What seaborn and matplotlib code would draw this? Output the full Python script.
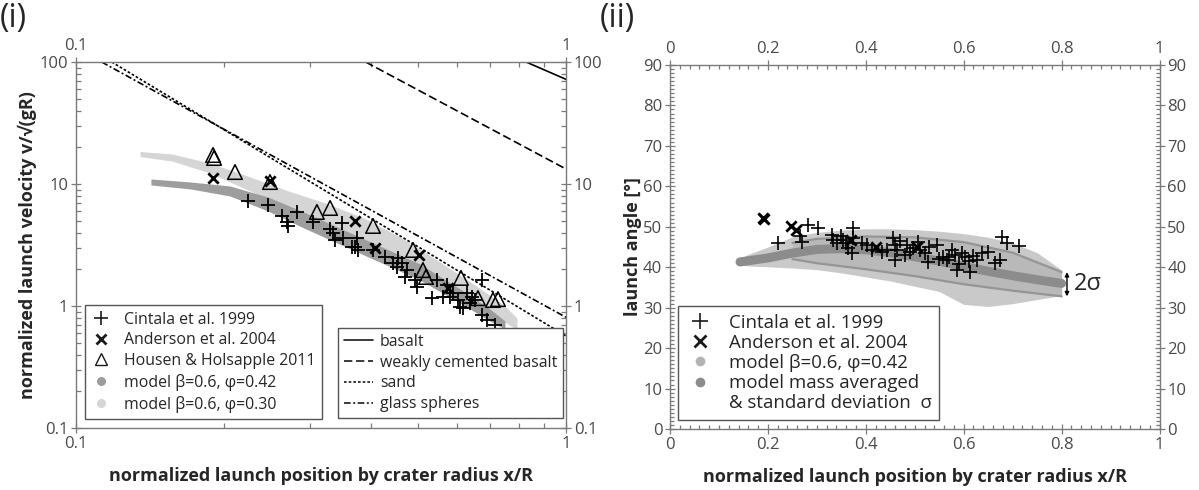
import matplotlib
matplotlib.use("Agg")
import numpy as np
import pandas as pd
import matplotlib.pyplot as plt
import seaborn as sns
from matplotlib.lines import Line2D
from matplotlib.ticker import (FuncFormatter, MultipleLocator, LogLocator,
                               NullFormatter, FixedLocator)

# ---------------- data: (i) launch velocity ----------------
cintala_left_x = [0.2247, 0.2468, 0.2630, 0.2692, 0.2713, 0.2821, 0.3050, 0.3300, 0.3351, 0.3378,
                  0.3512, 0.3711, 0.3769, 0.3740, 0.4044, 0.4272, 0.4443, 0.4548, 0.3485, 0.3653,
                  0.4513, 0.4622, 0.4731, 0.4693, 0.4918, 0.4958, 0.5320, 0.5446, 0.5709, 0.5618,
                  0.5798, 0.5888, 0.6028, 0.6077, 0.6271, 0.6422, 0.6522, 0.6730, 0.6730, 0.6891,
                  0.7163, 0.6173, 0.6366]
cintala_left_v = [7.26, 6.73, 5.47, 4.91, 4.53, 5.93, 4.91, 4.25, 3.94, 3.48,
                  3.59, 3.06, 2.88, 3.59, 2.88, 2.54, 2.24, 2.46, 4.76, 3.06,
                  2.10, 2.24, 1.97, 1.74, 1.63, 1.44, 1.16, 1.63, 1.49, 1.19,
                  1.19, 1.27, 1.12, 0.987, 1.27, 1.19, 1.12, 1.63, 0.844, 0.768,
                  0.699, 0.957, 1.05]

anderson_left_x = [0.1904, 0.2488, 0.3711, 0.4076, 0.5012, 0.5743]
anderson_left_v = [11.2, 10.58, 4.97, 2.99, 2.62, 1.40]

housen_x = [0.1904, 0.1913, 0.2111, 0.2488, 0.3102, 0.3300, 0.4038, 0.4873, 0.5106, 0.5179,
            0.6105, 0.6612, 0.7096, 0.7265]
housen_v = [17.29, 16.34, 12.54, 10.38, 5.90, 6.36, 4.53, 2.88, 1.97, 1.73,
            1.70, 1.16, 1.12, 1.14]

# model point clouds, outlined by lower / upper envelope
model42_x = [0.1422, 0.1716, 0.2062, 0.2465, 0.2947, 0.3523, 0.4211, 0.5035, 0.6077, 0.6996, 0.7507]
model42_hi = [10.99, 10.38, 9.63, 7.82, 5.78, 4.20, 3.05, 2.21, 1.38, 0.945, 0.753]
model42_lo = [9.82, 9.10, 7.97, 6.01, 4.28, 3.10, 2.25, 1.63, 1.06, 0.753, 0.648]

model30_x = [0.1351, 0.1570, 0.1877, 0.2254, 0.2695, 0.3224, 0.3871, 0.4627, 0.5533, 0.6612, 0.7507, 0.7943]
model30_hi = [18.46, 17.62, 14.86, 11.52, 8.85, 6.99, 5.26, 3.61, 2.29, 1.43, 1.00, 0.797]
model30_lo = [16.8, 15.43, 12.31, 8.85, 6.54, 4.79, 3.48, 2.38, 1.57, 1.02, 0.739, 0.636]

# scaling-law lines (straight in log-log, given by two points each)
basalt_x, basalt_v = [0.829, 1.0], [100.0, 72.1]
weak_x, weak_v = [0.390, 1.0], [100.0, 13.27]
sand_x, sand_v = [0.1183, 1.0], [100.0, 0.568]
glass_x, glass_v = [0.1128, 1.0], [100.0, 0.808]

# ---------------- data: (ii) launch angle ----------------
cintala_right_x = [0.2213, 0.2656, 0.269, 0.2826, 0.303, 0.330, 0.3337, 0.3405, 0.354, 0.364,
                   0.371, 0.3745, 0.3745, 0.3916, 0.402, 0.412, 0.4325, 0.4427, 0.456, 0.4597,
                   0.463, 0.4597, 0.4835, 0.490, 0.497, 0.507, 0.511, 0.5277, 0.545, 0.558,
                   0.565, 0.5755, 0.582, 0.5857, 0.596, 0.6027, 0.613, 0.6266, 0.637, 0.650,
                   0.664, 0.674, 0.6776, 0.6878, 0.7136, 0.35, 0.36, 0.47, 0.48, 0.52,
                   0.53, 0.57, 0.59, 0.61, 0.62, 0.55]
cintala_right_a = [46.1, 47.6, 46.3, 50.4, 49.6, 48.0, 46.7, 45.9, 46.7, 44.7,
                   43.4, 49.6, 47.2, 45.9, 45.5, 44.3, 43.8, 44.3, 47.2, 45.5,
                   44.3, 41.8, 45.5, 43.8, 44.7, 46.3, 44.3, 41.4, 45.5, 42.6,
                   41.8, 44.3, 43.0, 39.3, 43.4, 42.6, 38.9, 41.8, 43.4, 43.8,
                   41.0, 41.8, 47.5, 45.9, 45.2, 47.8, 46.0, 46.5, 43.0, 43.5,
                   45.0, 42.5, 40.8, 41.5, 42.8, 42.0]

anderson_right_x = [0.190, 0.192, 0.248, 0.258, 0.370, 0.420, 0.505]
anderson_right_a = [52.2, 51.8, 50.2, 49.2, 46.8, 45.0, 45.0]

cloud_x = [0.14, 0.16, 0.20, 0.25, 0.30, 0.35, 0.40, 0.45, 0.50, 0.55, 0.60, 0.65, 0.70, 0.75, 0.80]
cloud_hi = [42.0, 43.2, 45.0, 47.5, 48.6, 49.2, 49.5, 49.5, 49.3, 48.9, 48.3, 47.4, 46.0, 43.6, 39.3]
cloud_lo = [40.6, 40.3, 40.1, 39.8, 39.4, 38.6, 37.6, 36.6, 35.3, 34.0, 30.8, 30.3, 31.0, 32.0, 33.0]

mean_x = [0.143, 0.20, 0.25, 0.30, 0.35, 0.40, 0.45, 0.50, 0.55, 0.60, 0.65, 0.70, 0.75, 0.80]
mean_a = [41.3, 42.3, 43.5, 44.4, 44.6, 44.3, 43.6, 42.6, 41.5, 40.2, 39.0, 37.9, 36.9, 36.0]

sig_x = [0.25, 0.30, 0.40, 0.50, 0.60, 0.70, 0.80]
sig_hi = [46.0, 47.0, 47.6, 47.4, 46.2, 43.6, 38.8]
sig_lo = [42.0, 41.0, 39.5, 37.8, 35.8, 34.2, 32.8]

# ---------------- style ----------------
sns.set_theme(style="white")
plt.rcParams['font.family'] = ['Open Sans', 'DejaVu Sans']
SPINE = '#7a7a7a'
TICKLAB = '#4a4a4a'
C42 = '#9d9d9d'
C30 = '#d5d5d5'
TITLE_KW = dict(fontsize=13, fontweight='bold')

fig = plt.figure(figsize=(11.99, 4.90), dpi=100)
ax1 = fig.add_axes([76 / 1199, 62 / 490, 490 / 1199, 366 / 490])
ax2 = fig.add_axes([670 / 1199, 61 / 490, 489.5 / 1199, 364 / 490])


def style_axes(ax):
    for s in ax.spines.values():
        s.set_color(SPINE)
        s.set_linewidth(1.0)
    ax.tick_params(which='both', top=True, right=True, bottom=True, left=True,
                   labeltop=True, labelright=True, color=SPINE, labelcolor=TICKLAB,
                   labelsize=12, width=0.9)
    ax.tick_params(which='major', direction='inout', length=7, pad=2)
    ax.tick_params(which='minor', direction='in', length=3.5)


fmt = FuncFormatter(lambda v, _: f"{v:g}")

# ---------------- panel (i) ----------------
ax1.set_xscale('log')
ax1.set_yscale('log')

ax1.fill_between(model30_x, model30_lo, model30_hi, color=C30, lw=0, zorder=1)
ax1.fill_between(model42_x, model42_lo, model42_hi, color=C42, lw=0, zorder=1.1)

line_df = pd.DataFrame({
    'x': basalt_x + weak_x + sand_x + glass_x,
    'v': basalt_v + weak_v + sand_v + glass_v,
    'mat': ['basalt'] * 2 + ['weak'] * 2 + ['sand'] * 2 + ['glass'] * 2,
})
line_styles = {'basalt': '-', 'weak': (0, (5, 2.2)), 'sand': (0, (1.6, 1.2)),
               'glass': (0, (4, 1.5, 1.2, 1.5))}
for mat, ls in line_styles.items():
    sub = line_df[line_df['mat'] == mat]
    sns.lineplot(data=sub, x='x', y='v', ax=ax1, color='black', lw=1.2,
                 linestyle=ls, estimator=None, sort=False, zorder=2)

sns.scatterplot(x=cintala_left_x, y=cintala_left_v, ax=ax1, marker='+', s=95,
                color='black', linewidth=1.3, zorder=4)
sns.scatterplot(x=anderson_left_x, y=anderson_left_v, ax=ax1, marker='x', s=55,
                color='black', linewidth=2.0, zorder=4)
sns.scatterplot(x=housen_x, y=housen_v, ax=ax1, marker='^', s=110,
                facecolor='none', edgecolor='black', linewidth=1.1, zorder=3)

ax1.set_xlim(0.1, 1)
ax1.set_ylim(0.1, 100)
ax1.xaxis.set_major_locator(FixedLocator([0.1, 1]))
ax1.xaxis.set_minor_locator(LogLocator(base=10, subs=np.arange(2, 10)))
ax1.yaxis.set_major_locator(FixedLocator([0.1, 1, 10, 100]))
ax1.yaxis.set_minor_locator(LogLocator(base=10, subs=np.arange(2, 10)))
ax1.xaxis.set_major_formatter(fmt)
ax1.yaxis.set_major_formatter(fmt)
ax1.xaxis.set_minor_formatter(NullFormatter())
ax1.yaxis.set_minor_formatter(NullFormatter())
style_axes(ax1)
ax1.set_xlabel('normalized launch position by crater radius x/R', labelpad=11, **TITLE_KW)
ax1.set_ylabel('normalized launch velocity v/√(gR)', labelpad=2, **TITLE_KW)

leg_kw = dict(frameon=True, fancybox=False, framealpha=1, edgecolor='#555555',
              borderaxespad=0, handletextpad=0.8, borderpad=0.4, labelspacing=0.3)
marker_handles = [
    Line2D([], [], ls='none', marker='+', color='k', ms=10, mew=1.2),
    Line2D([], [], ls='none', marker='x', color='k', ms=7, mew=2.0),
    Line2D([], [], ls='none', marker='^', mfc='none', mec='k', ms=8, mew=1.0),
    Line2D([], [], ls='none', marker='o', color=C42, mec='none', ms=6.5),
    Line2D([], [], ls='none', marker='o', color=C30, mec='none', ms=6.5),
]
marker_labels = ['Cintala et al. 1999', 'Anderson et al. 2004', 'Housen & Holsapple 2011',
                 'model β=0.6, φ=0.42', 'model β=0.6, φ=0.30']
leg1 = ax1.legend(marker_handles, marker_labels, loc='lower left',
                  bbox_to_anchor=(0.018, 0.025), fontsize=11.4, handlelength=1.3, **leg_kw)
leg1.get_frame().set_linewidth(1.0)
ax1.add_artist(leg1)

line_handles = [Line2D([], [], color='k', lw=1.2, ls=ls) for ls in line_styles.values()]
line_labels = ['basalt', 'weakly cemented basalt', 'sand', 'glass spheres']
leg2 = ax1.legend(line_handles, line_labels, loc='lower left',
                  bbox_to_anchor=(0.535, 0.027), fontsize=11.4, handlelength=1.8,
                  **{**leg_kw, 'handletextpad': 0.45, 'borderpad': 0.38})
leg2.get_frame().set_linewidth(1.0)

# ---------------- panel (ii) ----------------
ax2.fill_between(cloud_x, cloud_lo, cloud_hi, color='#c9c9c9', lw=0, zorder=1)
ax2.fill_between(sig_x, sig_lo, sig_hi, color='#b9b9b9', lw=0, zorder=1.1)
sns.lineplot(x=sig_x, y=sig_hi, ax=ax2, color='#959595', lw=1.6, zorder=1.2)
sns.lineplot(x=sig_x, y=sig_lo, ax=ax2, color='#959595', lw=1.6, zorder=1.2)
sns.lineplot(x=mean_x, y=mean_a, ax=ax2, color='#8c8c8c', lw=6.5, zorder=1.3)
ax2.lines[-1].set_solid_capstyle('round')

sns.scatterplot(x=cintala_right_x, y=cintala_right_a, ax=ax2, marker='+', s=95,
                color='black', linewidth=1.2, zorder=4)
sns.scatterplot(x=anderson_right_x, y=anderson_right_a, ax=ax2, marker='x', s=55,
                color='black', linewidth=2.0, zorder=4)

# spread marker at the end of the averaged curve
ax2.annotate('', xy=(0.811, sig_lo[-1]), xytext=(0.811, sig_hi[-1]),
             arrowprops=dict(arrowstyle='<|-|>', color='black', lw=1.0,
                             shrinkA=0, shrinkB=0, mutation_scale=6))
ax2.text(0.825, (sig_lo[-1] + sig_hi[-1]) / 2, '2σ', fontsize=17, va='center', ha='left')

ax2.set_xlim(0, 1)
ax2.set_ylim(0, 90)
ax2.xaxis.set_major_locator(MultipleLocator(0.2))
ax2.xaxis.set_minor_locator(MultipleLocator(0.02))
ax2.yaxis.set_major_locator(MultipleLocator(10))
ax2.yaxis.set_minor_locator(MultipleLocator(1))
ax2.xaxis.set_major_formatter(fmt)
ax2.yaxis.set_major_formatter(fmt)
style_axes(ax2)
ax2.tick_params(which='minor', length=3)
ax2.set_xlabel('normalized launch position by crater radius x/R', labelpad=11, **TITLE_KW)
ax2.set_ylabel('launch angle [°]', labelpad=1, **TITLE_KW)

angle_handles = [
    Line2D([], [], ls='none', marker='+', color='k', ms=11, mew=1.2),
    Line2D([], [], ls='none', marker='x', color='k', ms=8, mew=2.0),
    Line2D([], [], ls='none', marker='o', color='#b3b3b3', mec='none', ms=7),
    Line2D([], [], ls='none', marker='o', color='#8c8c8c', mec='none', ms=7),
    Line2D([], [], ls='none', marker=None),
]
angle_labels = ['Cintala et al. 1999', 'Anderson et al. 2004', 'model β=0.6, φ=0.42',
                'model mass averaged', '& standard deviation  σ']
leg3 = ax2.legend(angle_handles, angle_labels, loc='lower left',
                  bbox_to_anchor=(0.017, 0.025), fontsize=13.4, handlelength=1.5,
                  **{**leg_kw, 'labelspacing': 0.12})
leg3.get_frame().set_linewidth(1.0)

fig.text(0.0, 0.995, '(i)', fontsize=23, va='top', ha='left')
fig.text(600 / 1199, 0.995, '(ii)', fontsize=23, va='top', ha='left')

fig.savefig('out.png', dpi=100)
